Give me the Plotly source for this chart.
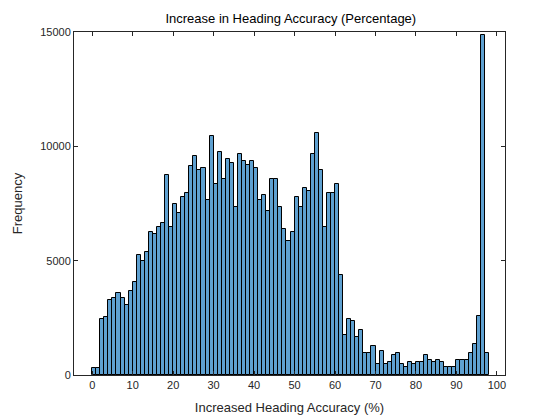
import plotly.graph_objects as go

# histogram counts, bins of width 1 starting at 0
counts = [300, 300, 2435, 2550, 3265, 3350, 3570, 3350, 3050, 3660,
          4050, 5230, 4970, 5360, 6240, 6150, 6460, 6630, 8730, 6460,
          7460, 7070, 7770, 7940, 9120, 9560, 8950, 9040, 7640, 10440,
          8340, 9740, 8560, 9430, 9260, 7330, 9650, 9340, 9170, 9340,
          9040, 7640, 7860, 7160, 8560, 8560, 7330, 6370, 5850, 6240,
          7770, 7330, 8160, 8030, 9650, 10570, 8950, 6460, 7940, 7940,
          8340, 4360, 1740, 2435, 2350, 1650, 1950, 950, 950, 1250,
          470, 1040, 470, 550, 860, 950, 470, 335, 550, 470,
          550, 550, 860, 640, 550, 640, 550, 335, 335, 335,
          640, 640, 640, 950, 1340, 2570, 14850, 950]
bin_centers = [k + 0.5 for k in range(len(counts))]

x_ticks = list(range(0, 101, 10))
y_ticks = [0, 5000, 10000, 15000]
y_labels = ['0', '5000', '10000', '15000']

fig = go.Figure()
fig.add_trace(go.Bar(
    x=bin_centers, y=counts, width=1,
    marker=dict(color='rgb(94,160,208)', line=dict(color='black', width=1))))

axis_common = dict(showgrid=False, zeroline=False, showline=True, linecolor='#262626',
                   linewidth=1, mirror='ticks', ticks='inside', ticklen=4, tickcolor='#262626',
                   automargin=False, tickfont=dict(size=11, color='#262626'))
fig.update_xaxes(range=[-4.5, 102], tickvals=x_ticks,
                 title=dict(text='Increased Heading Accuracy (%)', font=dict(size=13, color='#262626'), standoff=12),
                 **axis_common)
fig.update_yaxes(range=[0, 15000], tickvals=y_ticks, ticktext=y_labels,
                 title=dict(text='Frequency', font=dict(size=13, color='#262626'), standoff=14),
                 **axis_common)
fig.update_layout(
    width=560, height=420, bargap=0,
    title=dict(text='Increase in Heading Accuracy (Percentage)', x=0.505, xanchor='center',
               y=0.985, font=dict(size=13, color='black')),
    font=dict(family='Liberation Sans, Arial'),
    plot_bgcolor='white', paper_bgcolor='white', showlegend=False,
    margin=dict(l=66, r=63, t=24, b=53))

fig.write_html("out.html")
